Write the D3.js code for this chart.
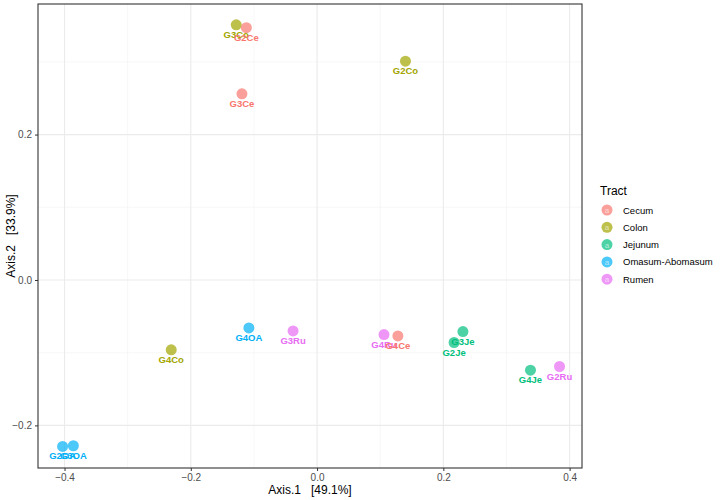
<!DOCTYPE html>
<html>
<head>
<meta charset="utf-8">
<script src="https://cdn.jsdelivr.net/npm/d3@7"></script>
<style>
  body { margin: 0; background: #fff; }
  text { font-family: "Liberation Sans", Arial, sans-serif; }
</style>
</head>
<body>
<div id="chart"></div>
<script>
// sample ids, ordination coords, tract
const samples = ["G3Co", "G2Ce", "G3Ce", "G2Co", "G4Co", "G4OA", "G3Ru", "G4Ru", "G4Ce", "G3Je", "G2Je", "G4Je", "G2Ru", "G2OA", "G3OA"];
const axis1 = [-0.128, -0.112, -0.119, 0.140, -0.231, -0.108, -0.038, 0.106, 0.128, 0.231, 0.217, 0.338, 0.384, -0.403, -0.386];
const axis2 = [0.351, 0.347, 0.256, 0.301, -0.096, -0.066, -0.070, -0.075, -0.077, -0.071, -0.086, -0.124, -0.119, -0.229, -0.228];
const tract = ["Colon", "Cecum", "Cecum", "Colon", "Colon", "Omasum-Abomasum", "Rumen", "Rumen", "Cecum", "Jejunum", "Jejunum", "Jejunum", "Rumen", "Omasum-Abomasum", "Omasum-Abomasum"];

const tracts = ["Cecum", "Colon", "Jejunum", "Omasum-Abomasum", "Rumen"];
const tractCols = ["#F8766D", "#A3A500", "#00BF7D", "#00B0F6", "#E76BF3"];

const xMajor = [-0.4, -0.2, 0.0, 0.2, 0.4];
const xMinor = [-0.3, -0.1, 0.1, 0.3];
const yMajor = [-0.2, 0.0, 0.2];
const yMinor = [-0.1, 0.1, 0.3];

const width = 720, height = 500;
const panel = {left: 38, right: 582, top: 4, bottom: 468};

const data = samples.map(function(s, i){
    return {id: s, x: axis1[i], y: axis2[i], tract: tract[i]};
});

const x = d3.scaleLinear().domain([-0.442, 0.4196]).range([panel.left, panel.right]);
const y = d3.scaleLinear().domain([-0.2586, 0.3796]).range([panel.bottom, panel.top]);
const col = d3.scaleOrdinal().domain(tracts).range(tractCols);

const svg = d3.select("#chart").append("svg")
    .attr("width", width)
    .attr("height", height);

svg.append("rect")
    .attr("width", width).attr("height", height).attr("fill", "white");

// grid
const grid = svg.append("g");
grid.selectAll(".xminor").data(xMinor).enter().append("line")
    .attr("x1", d => x(d)).attr("x2", d => x(d))
    .attr("y1", panel.top).attr("y2", panel.bottom)
    .attr("stroke", "#f2f2f2").attr("stroke-width", 0.6);
grid.selectAll(".yminor").data(yMinor).enter().append("line")
    .attr("y1", d => y(d)).attr("y2", d => y(d))
    .attr("x1", panel.left).attr("x2", panel.right)
    .attr("stroke", "#f2f2f2").attr("stroke-width", 0.6);
grid.selectAll(".xmajor").data(xMajor).enter().append("line")
    .attr("x1", d => x(d)).attr("x2", d => x(d))
    .attr("y1", panel.top).attr("y2", panel.bottom)
    .attr("stroke", "#ebebeb").attr("stroke-width", 1.1);
grid.selectAll(".ymajor").data(yMajor).enter().append("line")
    .attr("y1", d => y(d)).attr("y2", d => y(d))
    .attr("x1", panel.left).attr("x2", panel.right)
    .attr("stroke", "#ebebeb").attr("stroke-width", 1.1);

// axes
const xAxis = d3.axisBottom(x).tickValues(xMajor).tickSize(3).tickPadding(3)
    .tickFormat(d3.format(".1f"));
const yAxis = d3.axisLeft(y).tickValues(yMajor).tickSize(3).tickPadding(3)
    .tickFormat(d3.format(".1f"));

const gx = svg.append("g")
    .attr("transform", "translate(0," + panel.bottom + ")")
    .call(xAxis);
const gy = svg.append("g")
    .attr("transform", "translate(" + panel.left + ",0)")
    .call(yAxis);
[gx, gy].forEach(function(g){
    g.select(".domain").remove();
    g.selectAll(".tick line").attr("stroke", "#333333").attr("stroke-width", 1);
    g.selectAll(".tick text")
        .attr("fill", "#4d4d4d")
        .style("font-size", "10px")
        .style("font-family", "Liberation Sans, Arial, sans-serif");
});

// points
const pts = svg.append("g");
pts.selectAll("circle").data(data).enter().append("circle")
    .attr("cx", d => x(d.x)).attr("cy", d => y(d.y))
    .attr("r", 5.5)
    .attr("fill", d => col(d.tract))
    .attr("fill-opacity", 0.7);

pts.selectAll("text").data(data).enter().append("text")
    .attr("x", d => x(d.x)).attr("y", d => y(d.y) + 13)
    .attr("text-anchor", "middle")
    .attr("fill", d => col(d.tract))
    .style("font-size", "9.5px")
    .style("font-weight", "bold")
    .text(d => d.id);

// border
svg.append("rect")
    .attr("x", panel.left).attr("y", panel.top)
    .attr("width", panel.right - panel.left)
    .attr("height", panel.bottom - panel.top)
    .attr("fill", "none")
    .attr("stroke", "#333333")
    .attr("stroke-width", 1.1);

// axis titles
svg.append("text")
    .attr("x", (panel.left + panel.right) / 2).attr("y", 494)
    .attr("text-anchor", "middle")
    .attr("fill", "black")
    .style("font-size", "12px")
    .attr("xml:space", "preserve")
    .text("Axis.1   [49.1%]");

svg.append("text")
    .attr("transform", "translate(15," + (panel.top + panel.bottom) / 2 + ") rotate(-90)")
    .attr("text-anchor", "middle")
    .attr("fill", "black")
    .style("font-size", "12px")
    .attr("xml:space", "preserve")
    .text("Axis.2   [33.9%]");

// legend
const legend = svg.append("g").attr("transform", "translate(600,0)");
legend.append("text")
    .attr("x", 0).attr("y", 195)
    .style("font-size", "12px")
    .text("Tract");

const keys = legend.selectAll(".key").data(tracts).enter().append("g")
    .attr("transform", (d, i) => "translate(0," + (210 + i * 17.3) + ")");
keys.append("circle")
    .attr("cx", 7).attr("cy", 0).attr("r", 5.5)
    .attr("fill", d => col(d)).attr("fill-opacity", 0.7);
keys.append("text")
    .attr("x", 7).attr("y", 3)
    .attr("text-anchor", "middle")
    .attr("fill", "white")
    .attr("fill-opacity", 0.6)
    .style("font-size", "8px")
    .text("a");
keys.append("text")
    .attr("x", 23).attr("y", 3.5)
    .attr("fill", "black")
    .style("font-size", "9.5px")
    .text(d => d);
</script>
</body>
</html>
